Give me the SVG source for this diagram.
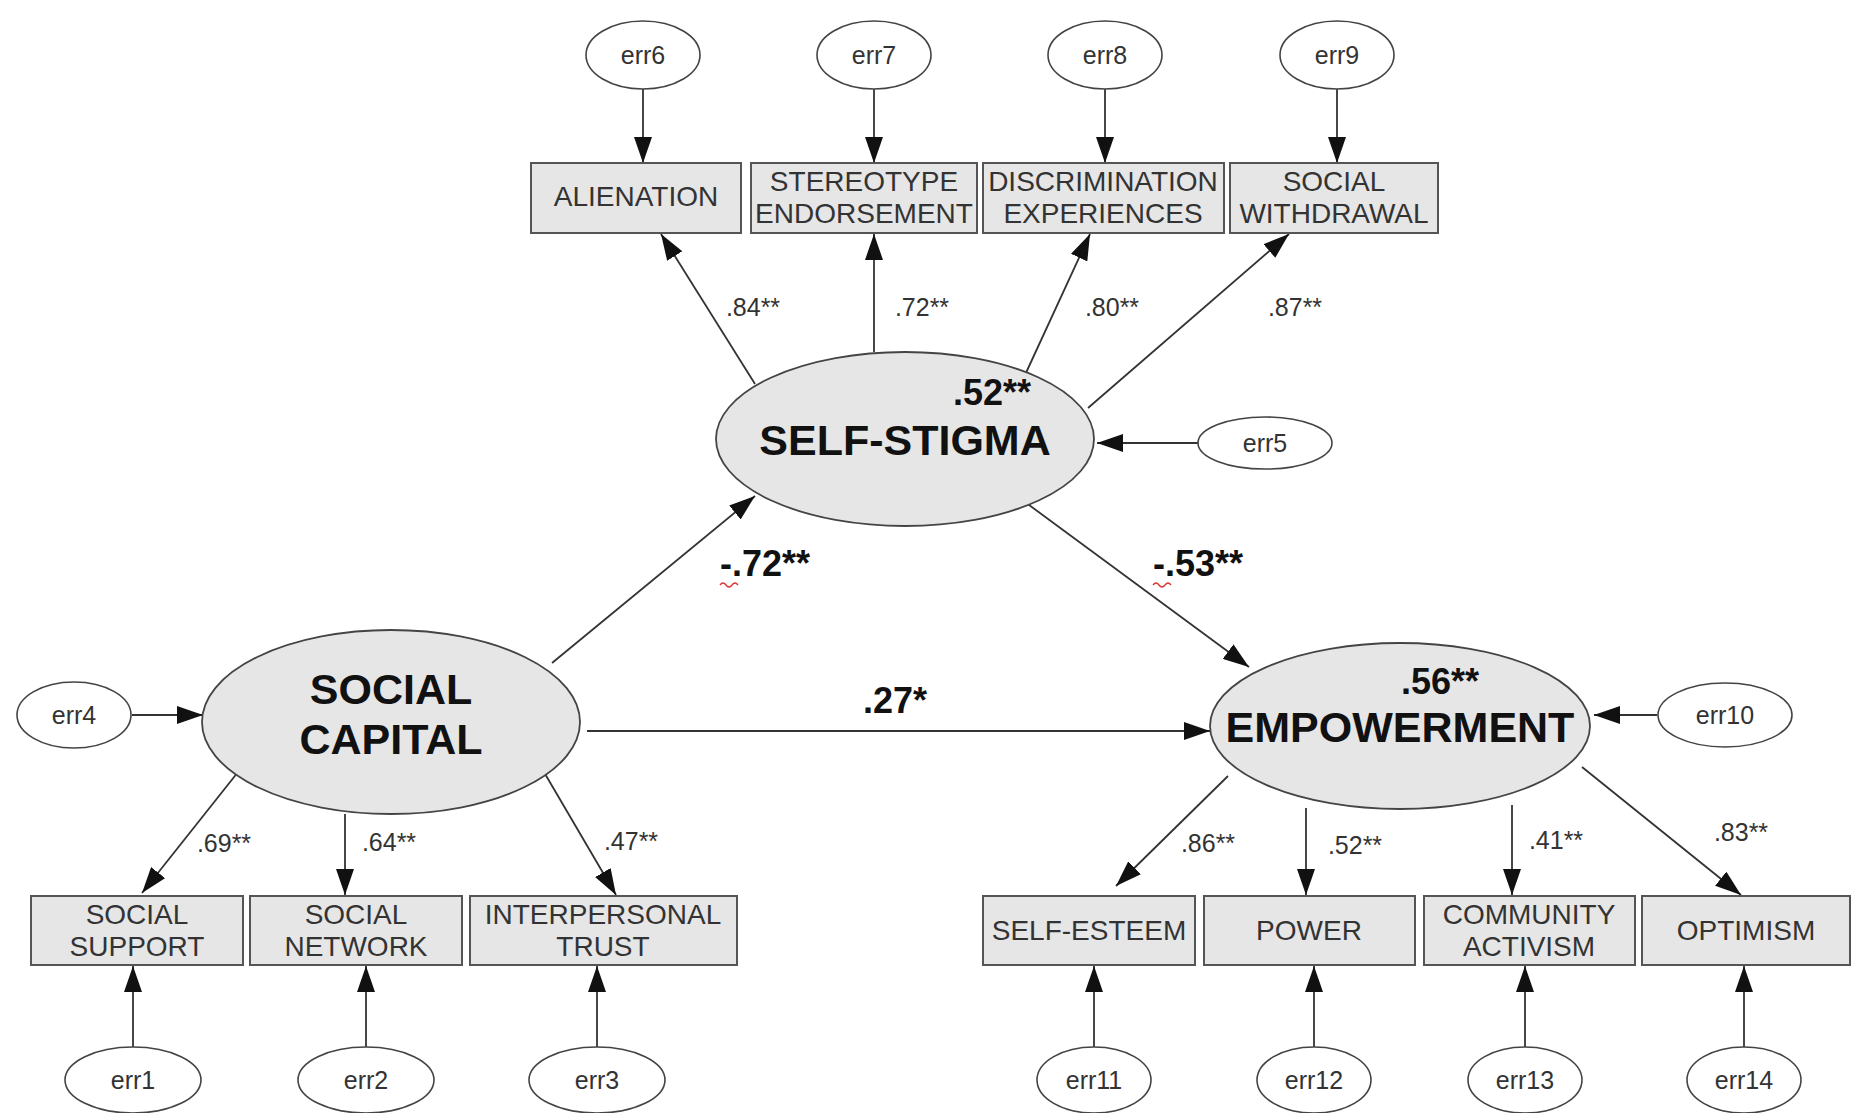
<svg xmlns="http://www.w3.org/2000/svg" width="1851" height="1113" viewBox="0 0 1851 1113">
<defs>
<marker id="ah" markerUnits="userSpaceOnUse" markerWidth="26" markerHeight="18" refX="26" refY="9" orient="auto">
<path d="M0,0 L26,9 L0,18 z" fill="#111"/>
</marker>
<style>
.err{fill:#fff;stroke:#444;stroke-width:1.6}
.lat{fill:#e6e6e6;stroke:#444;stroke-width:1.8}
.box{fill:#e6e6e6;stroke:#555;stroke-width:2}
.et{font-family:"Liberation Sans",Arial,sans-serif;font-size:25px;fill:#333;text-anchor:middle;dominant-baseline:central}
.bt{font-family:"Liberation Sans",Arial,sans-serif;font-size:28px;fill:#333;text-anchor:middle;dominant-baseline:central}
.lt{font-family:"Liberation Sans",Arial,sans-serif;font-size:43px;font-weight:bold;fill:#111;text-anchor:middle;dominant-baseline:central}
.ld{font-family:"Liberation Sans",Arial,sans-serif;font-size:25px;fill:#333;text-anchor:middle;dominant-baseline:central}
.pl{font-family:"Liberation Sans",Arial,sans-serif;font-size:36px;font-weight:bold;fill:#111;text-anchor:middle;dominant-baseline:central}
.c{fill:none;stroke:#333;stroke-width:1.8;marker-end:url(#ah)}
</style>
</defs>
<rect width="1851" height="1113" fill="#fff"/>

<g id="connectors">
<line class="c" x1="643" y1="89" x2="643" y2="163"/>
<line class="c" x1="874" y1="89" x2="874" y2="163"/>
<line class="c" x1="1105" y1="89" x2="1105" y2="163"/>
<line class="c" x1="1337" y1="89" x2="1337" y2="163"/>
<line class="c" x1="755" y1="384" x2="661" y2="234"/>
<line class="c" x1="874" y1="352" x2="874" y2="234"/>
<line class="c" x1="1025" y1="375" x2="1090" y2="234"/>
<line class="c" x1="1088" y1="408" x2="1289" y2="234"/>
<line class="c" x1="1198" y1="443" x2="1097" y2="443"/>
<line class="c" x1="132" y1="715" x2="203" y2="715"/>
<line class="c" x1="552" y1="663" x2="755" y2="496"/>
<line class="c" x1="587" y1="731" x2="1210" y2="731"/>
<line class="c" x1="1025" y1="502" x2="1249" y2="667"/>
<line class="c" x1="1657" y1="715" x2="1594" y2="715"/>
<line class="c" x1="242" y1="767" x2="142" y2="893"/>
<line class="c" x1="345" y1="814" x2="345" y2="895"/>
<line class="c" x1="541" y1="767" x2="616" y2="895"/>
<line class="c" x1="133" y1="1047" x2="133" y2="966"/>
<line class="c" x1="366" y1="1047" x2="366" y2="966"/>
<line class="c" x1="597" y1="1047" x2="597" y2="966"/>
<line class="c" x1="1228" y1="776" x2="1116" y2="886"/>
<line class="c" x1="1306" y1="808" x2="1306" y2="895"/>
<line class="c" x1="1512" y1="805" x2="1512" y2="895"/>
<line class="c" x1="1582" y1="767" x2="1741" y2="895"/>
<line class="c" x1="1094" y1="1047" x2="1094" y2="966"/>
<line class="c" x1="1314" y1="1047" x2="1314" y2="966"/>
<line class="c" x1="1525" y1="1047" x2="1525" y2="966"/>
<line class="c" x1="1744" y1="1047" x2="1744" y2="966"/>
</g>

<g id="labels">
<text class="ld" x="753" y="307">.84**</text>
<text class="ld" x="922" y="307">.72**</text>
<text class="ld" x="1112" y="307">.80**</text>
<text class="ld" x="1295" y="307">.87**</text>
<text class="pl" x="765" y="563">-.72**</text>
<path d="M720,585 q3,-4 6,0 t6,0 t6,0" fill="none" stroke="#d33" stroke-width="1.3"/>
<text class="pl" x="1198" y="563">-.53**</text>
<path d="M1153,585 q3,-4 6,0 t6,0 t6,0" fill="none" stroke="#d33" stroke-width="1.3"/>
<text class="pl" x="895" y="700">.27*</text>
<text class="ld" x="224" y="843">.69**</text>
<text class="ld" x="389" y="842">.64**</text>
<text class="ld" x="631" y="841">.47**</text>
<text class="ld" x="1208" y="843">.86**</text>
<text class="ld" x="1355" y="845">.52**</text>
<text class="ld" x="1556" y="840">.41**</text>
<text class="ld" x="1741" y="832">.83**</text>
</g>

<g id="err6"><ellipse class="err" cx="643" cy="55" rx="57" ry="34"/><text class="et" x="643" y="55">err6</text></g>
<g id="err7"><ellipse class="err" cx="874" cy="55" rx="57" ry="34"/><text class="et" x="874" y="55">err7</text></g>
<g id="err8"><ellipse class="err" cx="1105" cy="55" rx="57" ry="34"/><text class="et" x="1105" y="55">err8</text></g>
<g id="err9"><ellipse class="err" cx="1337" cy="55" rx="57" ry="34"/><text class="et" x="1337" y="55">err9</text></g>

<g id="alienation"><rect class="box" x="531" y="163" width="210" height="70"/><text class="bt" x="636" y="196">ALIENATION</text></g>
<g id="stereotype"><rect class="box" x="751" y="163" width="226" height="70"/><text class="bt" x="864" y="181">STEREOTYPE</text><text class="bt" x="864" y="213">ENDORSEMENT</text></g>
<g id="discrimination"><rect class="box" x="983" y="163" width="241" height="70"/><text class="bt" x="1103" y="181">DISCRIMINATION</text><text class="bt" x="1103" y="213">EXPERIENCES</text></g>
<g id="withdrawal"><rect class="box" x="1230" y="163" width="208" height="70"/><text class="bt" x="1334" y="181">SOCIAL</text><text class="bt" x="1334" y="213">WITHDRAWAL</text></g>

<g id="selfstigma"><ellipse class="lat" cx="905" cy="439" rx="189" ry="87"/><text class="pl" x="992" y="392">.52**</text><text class="lt" x="905" y="440">SELF-STIGMA</text></g>
<g id="err5"><ellipse class="err" cx="1265" cy="443" rx="67" ry="26"/><text class="et" x="1265" y="443">err5</text></g>

<g id="socialcapital"><ellipse class="lat" cx="391" cy="722" rx="189" ry="92"/><text class="lt" x="391" y="689">SOCIAL</text><text class="lt" x="391" y="739">CAPITAL</text></g>
<g id="err4"><ellipse class="err" cx="74" cy="715" rx="57" ry="33"/><text class="et" x="74" y="715">err4</text></g>

<g id="empowerment"><ellipse class="lat" cx="1400" cy="726" rx="190" ry="83"/><text class="pl" x="1440" y="681">.56**</text><text class="lt" x="1400" y="727">EMPOWERMENT</text></g>
<g id="err10"><ellipse class="err" cx="1725" cy="715" rx="67" ry="32"/><text class="et" x="1725" y="715">err10</text></g>

<g id="socialsupport"><rect class="box" x="31" y="896" width="212" height="69"/><text class="bt" x="137" y="914">SOCIAL</text><text class="bt" x="137" y="946">SUPPORT</text></g>
<g id="socialnetwork"><rect class="box" x="250" y="896" width="212" height="69"/><text class="bt" x="356" y="914">SOCIAL</text><text class="bt" x="356" y="946">NETWORK</text></g>
<g id="trust"><rect class="box" x="470" y="896" width="267" height="69"/><text class="bt" x="603" y="914">INTERPERSONAL</text><text class="bt" x="603" y="946">TRUST</text></g>

<g id="selfesteem"><rect class="box" x="983" y="896" width="212" height="69"/><text class="bt" x="1089" y="930">SELF-ESTEEM</text></g>
<g id="power"><rect class="box" x="1204" y="896" width="211" height="69"/><text class="bt" x="1309" y="930">POWER</text></g>
<g id="activism"><rect class="box" x="1424" y="896" width="211" height="69"/><text class="bt" x="1529" y="914">COMMUNITY</text><text class="bt" x="1529" y="946">ACTIVISM</text></g>
<g id="optimism"><rect class="box" x="1642" y="896" width="208" height="69"/><text class="bt" x="1746" y="930">OPTIMISM</text></g>

<g id="err1"><ellipse class="err" cx="133" cy="1080" rx="68" ry="33"/><text class="et" x="133" y="1080">err1</text></g>
<g id="err2"><ellipse class="err" cx="366" cy="1080" rx="68" ry="33"/><text class="et" x="366" y="1080">err2</text></g>
<g id="err3"><ellipse class="err" cx="597" cy="1080" rx="68" ry="33"/><text class="et" x="597" y="1080">err3</text></g>
<g id="err11"><ellipse class="err" cx="1094" cy="1080" rx="57" ry="33"/><text class="et" x="1094" y="1080">err11</text></g>
<g id="err12"><ellipse class="err" cx="1314" cy="1080" rx="57" ry="33"/><text class="et" x="1314" y="1080">err12</text></g>
<g id="err13"><ellipse class="err" cx="1525" cy="1080" rx="57" ry="33"/><text class="et" x="1525" y="1080">err13</text></g>
<g id="err14"><ellipse class="err" cx="1744" cy="1080" rx="57" ry="33"/><text class="et" x="1744" y="1080">err14</text></g>
</svg>
